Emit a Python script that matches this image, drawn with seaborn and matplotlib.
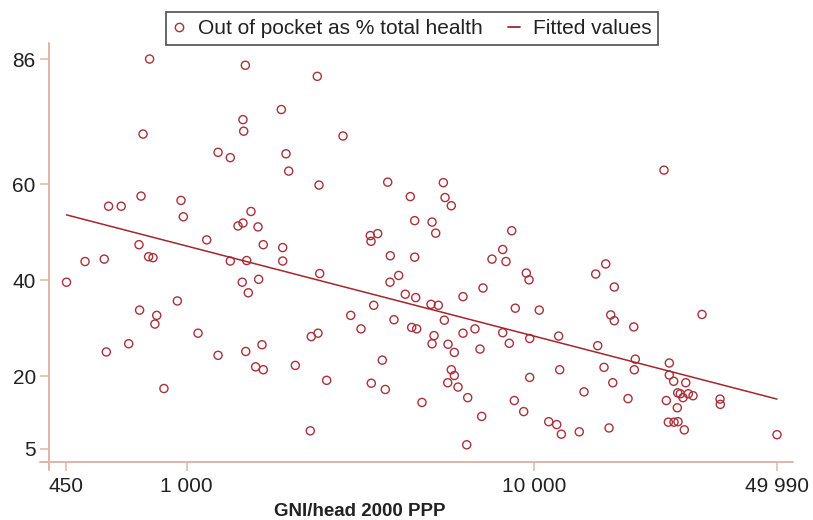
import numpy as np
import pandas as pd
import matplotlib
matplotlib.use("Agg")
import matplotlib.pyplot as plt
from matplotlib.lines import Line2D
import seaborn as sns

# GNI per head (2000 PPP) and out-of-pocket spending as % of total health spending
gni = [782, 749, 1231, 1335, 739, 596, 648, 963, 978, 729,
       1142, 510, 579, 777, 800, 1335, 451, 1445, 940, 732,
       820, 810, 1078, 681, 587, 1231, 860, 1475, 2376, 1872,
       1452, 1459, 2817, 1931, 1966, 2403, 3788, 4400, 4530, 5082,
       1531, 1452, 1405, 1604, 1661, 1889, 3376, 3545, 3392, 3854,
       4530, 1889, 1488, 1611, 1504, 2414, 4074, 3846, 4256, 4560,
       5048, 3453, 2965, 3949, 3174, 4441, 4590, 5082, 2387, 2283,
       1647, 1479, 1579, 1661, 2054, 3655, 2528, 3398, 3728, 4754,
       2268, 5477, 5539, 5774, 5207, 8615, 8116, 7560, 8295, 9490,
       9662, 16060, 15030, 17000, 7122, 6239, 5298, 8823, 10340, 5513,
       16600, 17000, 6754, 6239, 8116, 5149, 5649, 5890, 6982, 8479,
       9706, 11760, 15230, 5774, 5890, 5638, 6036, 6437, 9706, 11840,
       15880, 16830, 13910, 8765, 9328, 7061, 11010, 11610, 11970, 13480,
       16420, 6394, 23630, 19340, 30400, 19540, 19410, 24480, 24480, 25200,
       27290, 18620, 24000, 25880, 26330, 26800, 27760, 28640, 25810, 34250,
       34320, 24320, 25250, 25930, 27030, 49960]
oop = [86.0, 70.4, 66.6, 65.5, 57.5, 55.4, 55.4, 56.6, 53.2, 47.4,
       48.4, 43.9, 44.4, 44.9, 44.7, 44.0, 39.6, 39.6, 35.7, 33.8,
       32.7, 30.9, 29.0, 26.8, 25.1, 24.4, 17.5, 84.7, 82.4, 75.5,
       73.4, 71.0, 70.0, 66.3, 62.7, 59.8, 60.4, 57.4, 52.4, 52.1,
       54.3, 51.9, 51.3, 51.1, 47.4, 46.8, 49.3, 49.7, 48.1, 45.1,
       44.8, 44.0, 44.1, 40.2, 37.4, 41.4, 41.0, 39.6, 37.1, 36.4,
       35.0, 34.8, 32.7, 31.8, 29.9, 30.2, 29.9, 26.8, 29.0, 28.3,
       26.6, 25.2, 22.0, 21.4, 22.3, 23.4, 19.2, 18.6, 17.3, 14.6,
       8.7, 60.3, 57.2, 55.5, 49.8, 50.3, 46.4, 44.4, 43.9, 41.5,
       40.1, 43.4, 41.3, 38.6, 38.4, 36.6, 34.8, 34.2, 33.8, 31.7,
       32.8, 31.6, 29.9, 29.0, 29.1, 28.5, 26.7, 25.0, 25.7, 26.9,
       27.9, 28.4, 26.4, 21.4, 20.2, 18.7, 17.8, 15.6, 19.8, 21.4,
       21.9, 18.7, 16.8, 15.0, 12.7, 11.7, 10.6, 10.0, 8.0, 8.5,
       9.3, 5.8, 62.9, 30.3, 32.9, 23.6, 21.4, 22.8, 20.3, 19.0,
       18.7, 15.4, 15.0, 16.6, 16.4, 15.6, 16.4, 16.0, 13.5, 15.3,
       14.2, 10.5, 10.5, 10.6, 8.9, 7.9]

# Fitted values (linear in log GNI) at the extremes of the data
fit_gni = [451, 49960]
fit_oop = [53.6, 15.3]

xticks = [450, 1000, 10000, 49990]
xtick_labels = ["450", "1 000", "10 000", "49 990"]
yticks = [5, 20, 40, 60, 86]

scatter_label = "Out of pocket as % total health"
fit_label = "Fitted values"
xlabel = "GNI/head 2000 PPP"

df = pd.DataFrame({"gni": gni, "oop": oop})
fit_df = pd.DataFrame({"gni": fit_gni, "oop": fit_oop})

sns.set_style("white")
plt.rcParams["font.family"] = ["Liberation Sans", "DejaVu Sans"]

W, H = 813, 520
fig = plt.figure(figsize=(W / 100, H / 100), dpi=100)
ax_l, ax_r, ax_t, ax_b = 49, 793, 43.3, 462
ax = fig.add_axes([ax_l / W, 1 - ax_b / H, (ax_r - ax_l) / W, (ax_b - ax_t) / H])

mark_col = "#a8323a"
line_col = "#a3262c"
axis_col = "#dcb6aa"
text_col = "#222222"

sns.scatterplot(data=df, x="gni", y="oop", ax=ax, marker="o", s=34,
                facecolor="none", edgecolor=mark_col, linewidth=1.0, legend=False)
sns.lineplot(data=fit_df, x="gni", y="oop", ax=ax, color=line_col, linewidth=1.1,
             legend=False, estimator=None)

ax.set_xscale("log")
ax.set_xlim(401.6, 55550)
ax.set_ylim(2.22, 89.27)
ax.set_xticks(xticks)
ax.set_xticklabels(xtick_labels)
ax.xaxis.set_minor_locator(matplotlib.ticker.NullLocator())
ax.set_yticks(yticks)
ax.set_yticklabels([str(v) for v in yticks])
ax.set_xlabel("")
ax.set_ylabel("")

for s in ax.spines.values():
    s.set_visible(False)
ext_x = (ax_l - 40) / (ax_r - ax_l)
ext_y = (470 - ax_b) / (ax_b - ax_t)
ax.add_line(Line2D([-ext_x, 1], [0, 0], transform=ax.transAxes, color=axis_col,
                   lw=1.4, clip_on=False))
ax.add_line(Line2D([0, 0], [-ext_y, 1], transform=ax.transAxes, color=axis_col,
                   lw=1.4, clip_on=False))

ax.tick_params(axis="both", which="major", length=6.5, width=1.1, color=axis_col,
               labelsize=15, labelcolor=text_col, direction="out",
               bottom=True, left=True, top=False, right=False)
ax.tick_params(axis="y", pad=3)
ax.tick_params(axis="x", pad=4)

fig.text(360 / W, 1 - 512 / H, xlabel, ha="center", va="center",
         fontsize=13.5, fontweight="bold", color=text_col)

handles = [
    Line2D([], [], linestyle="none", marker="o", markersize=6, markerfacecolor="none",
           markeredgecolor=mark_col, markeredgewidth=1.0),
    Line2D([], [], color=line_col, lw=1.3),
]
leg = fig.legend(handles, [scatter_label, fit_label], loc="center",
                 bbox_to_anchor=(412 / W, 1 - 28.5 / H), ncol=2, frameon=True,
                 fancybox=False, fontsize=15, handlelength=0.6, handletextpad=0.6,
                 columnspacing=1.2, borderpad=0.35, labelcolor=text_col)
leg.get_frame().set_edgecolor("#333333")
leg.get_frame().set_linewidth(1.3)

fig.savefig("out.png", dpi=100, facecolor="white")
